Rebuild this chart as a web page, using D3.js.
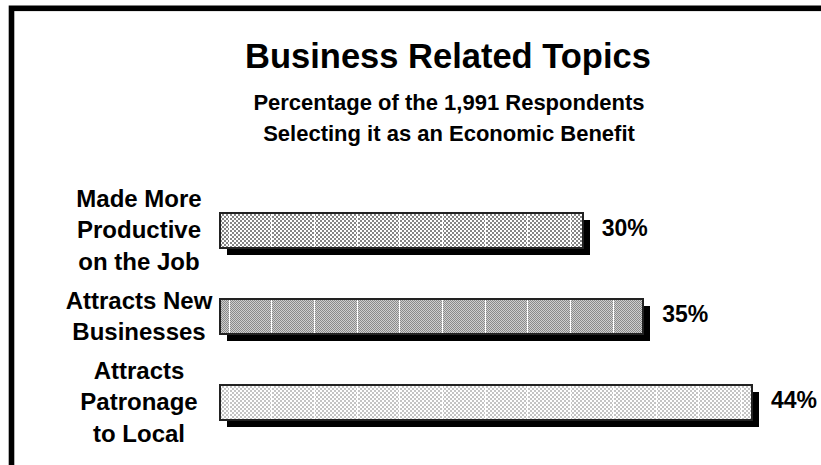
<!DOCTYPE html>
<html>
<head>
<meta charset="utf-8">
<script src="https://cdn.jsdelivr.net/npm/d3@7"></script>
<style>
  html, body { margin: 0; padding: 0; background: #fff; }
  svg { display: block; }
  text { font-family: "Liberation Sans", Arial, Helvetica, sans-serif; font-weight: bold; fill: #000; }
</style>
</head>
<body>
<svg id="chart" width="821" height="465"></svg>
<script>
// Survey results: share of respondents naming each item as an economic benefit
const categories = ["Made More Productive on the Job", "Attracts New Businesses", "Attracts Patronage to Local"];
const labelLines = [["Made More", "Productive", "on the Job"], ["Attracts New", "Businesses"], ["Attracts", "Patronage", "to Local"]];
const values = [30, 35, 44];
const valueLabels = ["30%", "35%", "44%"];
const titleText = "Business Related Topics";
const subtitleLines = ["Percentage of the 1,991 Respondents", "Selecting it as an Economic Benefit"];

const W = 821, H = 465;
const svg = d3.select("#chart");

// Fill patterns for the three bars
const defs = svg.append("defs");
function checker(id, size, dark, light) {
  const p = defs.append("pattern").attr("id", id)
    .attr("patternUnits", "userSpaceOnUse")
    .attr("width", size * 2).attr("height", size * 2);
  p.append("rect").attr("width", size * 2).attr("height", size * 2).attr("fill", light);
  p.append("rect").attr("x", 0).attr("y", 0).attr("width", size).attr("height", size).attr("fill", dark);
  p.append("rect").attr("x", size).attr("y", size).attr("width", size).attr("height", size).attr("fill", dark);
}
checker("fill0", 2, "#858585", "#ffffff");
checker("fill1", 1, "#8a8a8a", "#cfcfcf");
checker("fill2", 2, "#c4c4c4", "#ffffff");
const fills = ["url(#fill0)", "url(#fill1)", "url(#fill2)"];

// Heavy frame running off the right and bottom edges
svg.append("rect")
  .attr("x", 11.5).attr("y", 8.3)
  .attr("width", W + 40).attr("height", H + 40)
  .attr("fill", "none").attr("stroke", "#000").attr("stroke-width", 5.6);

// Titles
svg.append("text").attr("x", 448).attr("y", 68)
  .attr("text-anchor", "middle").style("font-size", "34.5px").text(titleText);
svg.selectAll("text.sub").data(subtitleLines).join("text")
  .attr("class", "sub")
  .attr("x", 449).attr("y", (d, i) => 110 + i * 31)
  .attr("text-anchor", "middle").style("font-size", "22px").text(d => d);

// Scales
const x = d3.scaleLinear().domain([0, 44]).range([220, 752]);
const y = d3.scaleBand().domain(categories).range([187.8, 445.8])
  .paddingInner(0.593).paddingOuter(0.2965);
const bw = y.bandwidth();
const shadow = 7;

const rows = categories.map((c, i) => ({ c, v: values[i], lab: valueLabels[i], lines: labelLines[i], fill: fills[i] }));

const g = svg.append("g").attr("shape-rendering", "crispEdges");

// Drop shadows
g.selectAll("rect.shadow").data(rows).join("rect")
  .attr("class", "shadow")
  .attr("x", d => x(0) + shadow).attr("y", d => y(d.c) + shadow)
  .attr("width", d => x(d.v) - x(0)).attr("height", bw)
  .attr("fill", "#000");

// Bars
g.selectAll("rect.bar").data(rows).join("rect")
  .attr("class", "bar")
  .attr("x", x(0)).attr("y", d => y(d.c))
  .attr("width", d => x(d.v) - x(0)).attr("height", bw)
  .attr("fill", d => d.fill);

// Light vertical rules showing through the bar fills
const gridStep = 42.7;
const gridX = d3.range(0, 13).map(k => x(0) + 9 + k * gridStep);
rows.forEach(d => {
  g.selectAll(null).data(gridX.filter(gx => gx < x(d.v) - 2)).join("line")
    .attr("x1", gx => gx).attr("x2", gx => gx)
    .attr("y1", y(d.c) + 1).attr("y2", y(d.c) + bw - 1)
    .attr("stroke", "#fff").attr("stroke-width", 1);
});

// Bar outlines
g.selectAll("rect.outline").data(rows).join("rect")
  .attr("class", "outline")
  .attr("x", x(0)).attr("y", d => y(d.c))
  .attr("width", d => x(d.v) - x(0)).attr("height", bw)
  .attr("fill", "none").attr("stroke", "#222").attr("stroke-width", 2);

// Category labels, centred in a column left of the bars
const lineGap = 31.5;
svg.selectAll("text.cat").data(rows).join("text")
  .attr("class", "cat")
  .attr("text-anchor", "middle")
  .style("font-size", "24px")
  .each(function(d) {
    const cy = y(d.c) + bw / 2;
    const n = d.lines.length;
    d3.select(this).selectAll("tspan").data(d.lines).join("tspan")
      .attr("x", 139)
      .attr("y", (t, i) => cy + (i - (n - 1) / 2) * lineGap + 7.5)
      .text(t => t);
  });

// Value labels
svg.selectAll("text.val").data(rows).join("text")
  .attr("class", "val")
  .attr("x", d => x(d.v) + 19)
  .attr("y", d => y(d.c) + bw / 2 + 5)
  .style("font-size", "23px")
  .text(d => d.lab);
</script>
</body>
</html>
